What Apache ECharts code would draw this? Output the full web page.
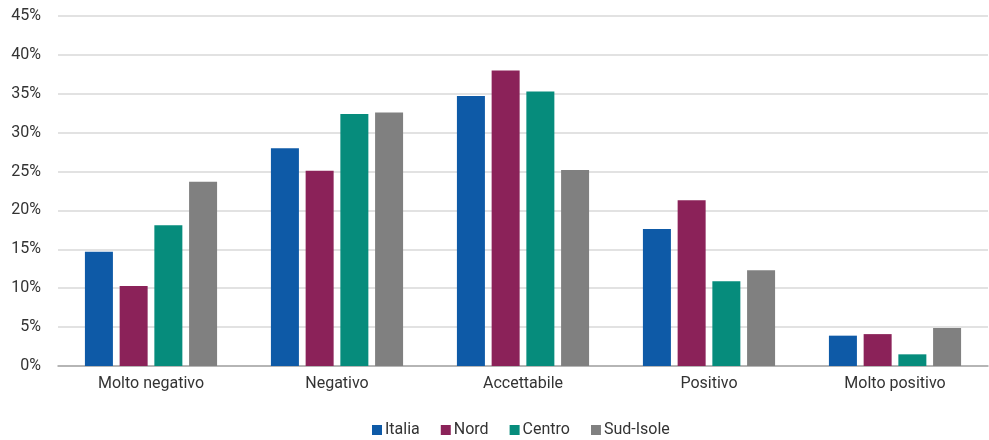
<!DOCTYPE html>
<html><head><meta charset="utf-8">
<script src="https://cdn.jsdelivr.net/npm/echarts@6/dist/echarts.min.js"></script>
<style>html,body{margin:0;padding:0;background:#fff}#c{width:989px;height:440px}</style>
</head><body><div id="c"></div>
<script>
const categories = ['Molto negativo','Negativo','Accettabile','Positivo','Molto positivo'];
const italia = [14.7, 28.0, 34.7, 17.6, 3.9];
const nord = [10.3, 25.1, 38.0, 21.3, 4.1];
const centro = [18.1, 32.4, 35.3, 10.9, 1.5];
const sudIsole = [23.7, 32.6, 25.2, 12.3, 4.9];
const yTicks = [0,5,10,15,20,25,30,35,40,45];

const font = 'Roboto';
const chart = echarts.init(document.getElementById('c'));
function s(name, data, color){
  return {name, type:'bar', data, itemStyle:{color}, barWidth:28, barGap:'24%'};
}
chart.setOption({
  animation:false,
  textStyle:{fontFamily:font},
  grid:{left:58, right:1, top:16, bottom:74},
  legend:{
    top:417, left:367, itemWidth:10, itemHeight:10, itemGap:21,
    icon:'rect', textStyle:{fontSize:16, color:'#333', fontFamily:font, padding:[0,0,0,-2]},
    data:['Italia','Nord','Centro','Sud-Isole']
  },
  xAxis:{type:'category', data:categories,
    axisLine:{lineStyle:{color:'#a6a6a6', width:1.5}},
    axisTick:{show:false},
    axisLabel:{fontSize:16, color:'#333', margin:10, fontFamily:font}},
  yAxis:{type:'value', min:yTicks[0], max:yTicks[yTicks.length-1], interval:5,
    axisLine:{show:false}, axisTick:{show:false},
    splitLine:{lineStyle:{color:'#d9d9d9', width:1.5}},
    axisLabel:{fontSize:16, color:'#333', margin:17, formatter:v=>v+'%', fontFamily:font}},
  series:[
    s('Italia', italia, '#0E5AA7'),
    s('Nord', nord, '#8B2259'),
    s('Centro', centro, '#068C7C'),
    s('Sud-Isole', sudIsole, '#808080')
  ]
});
</script></body></html>
